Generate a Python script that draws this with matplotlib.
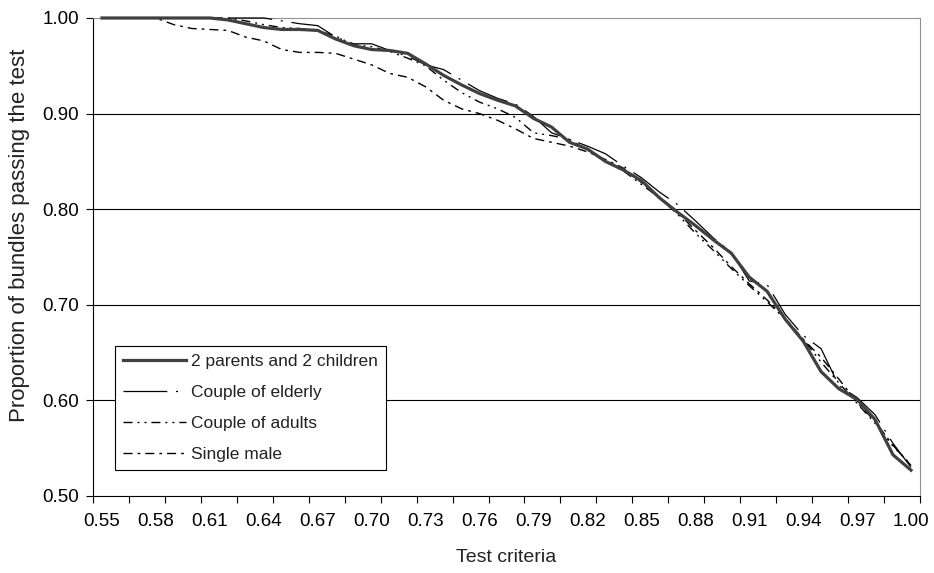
import matplotlib
matplotlib.use("Agg")
import matplotlib.pyplot as plt
import numpy as np

plt.rcParams['font.family'] = ['Liberation Sans', 'DejaVu Sans']

# test criteria categories 0.55 ... 1.00
criteria = np.round(np.linspace(0.55, 1.00, 46), 2)

parents_children = [
    1.000, 1.000, 1.000, 1.000, 1.000, 1.000, 1.000, 0.998, 0.994, 0.990,
    0.988, 0.988, 0.987, 0.978, 0.971, 0.967, 0.966, 0.963, 0.952, 0.940,
    0.930, 0.921, 0.914, 0.908, 0.895, 0.886, 0.870, 0.863, 0.850, 0.841,
    0.830, 0.812, 0.797, 0.783, 0.768, 0.754, 0.729, 0.714, 0.685, 0.662,
    0.630, 0.612, 0.601, 0.580, 0.543, 0.527]
elderly = [
    1.000, 1.000, 1.000, 1.000, 1.000, 1.000, 1.000, 1.000, 1.000, 1.000,
    0.997, 0.994, 0.992, 0.980, 0.973, 0.973, 0.966, 0.960, 0.951, 0.946,
    0.935, 0.924, 0.916, 0.910, 0.897, 0.880, 0.873, 0.866, 0.858, 0.845,
    0.833, 0.818, 0.805, 0.788, 0.770, 0.755, 0.725, 0.721, 0.690, 0.668,
    0.654, 0.615, 0.603, 0.585, 0.555, 0.530]
adults = [
    1.000, 1.000, 1.000, 1.000, 1.000, 1.000, 1.000, 1.000, 0.997, 0.993,
    0.990, 0.989, 0.987, 0.981, 0.972, 0.970, 0.965, 0.958, 0.950, 0.935,
    0.922, 0.912, 0.905, 0.896, 0.880, 0.877, 0.873, 0.862, 0.850, 0.840,
    0.826, 0.812, 0.795, 0.775, 0.757, 0.738, 0.720, 0.703, 0.685, 0.664,
    0.640, 0.618, 0.597, 0.576, 0.552, 0.533]
single_male = [
    1.000, 1.000, 1.000, 1.000, 0.993, 0.989, 0.988, 0.987, 0.980, 0.976,
    0.967, 0.964, 0.964, 0.963, 0.957, 0.951, 0.942, 0.938, 0.928, 0.914,
    0.905, 0.900, 0.893, 0.884, 0.874, 0.870, 0.866, 0.860, 0.852, 0.843,
    0.828, 0.813, 0.797, 0.778, 0.760, 0.740, 0.722, 0.705, 0.686, 0.664,
    0.645, 0.622, 0.598, 0.578, 0.553, 0.532]

labels = ['2 parents and 2 children', 'Couple of elderly',
          'Couple of adults', 'Single male']

fig = plt.figure(figsize=(9.34, 5.73), dpi=100)
ax = fig.add_axes([0.0996, 0.1344, 0.8854, 0.8342])

ax.plot(criteria, parents_children, color='#404040', lw=2.3,
        label=labels[0], clip_on=False, zorder=5)
ax.plot(criteria, elderly, color='black', lw=0.9,
        linestyle=(0, (35, 7, 1.6, 7)), label=labels[1], clip_on=False, zorder=4)
ax.plot(criteria, adults, color='black', lw=1.0,
        linestyle=(0, (6.5, 3.6, 1.4, 3.6, 1.4, 3.6)), label=labels[2],
        clip_on=False, zorder=4)
ax.plot(criteria, single_male, color='black', lw=1.0,
        linestyle=(0, (6.5, 3.6, 2.0, 3.6)), label=labels[3],
        clip_on=False, zorder=4)

ax.set_xlim(0.545, 1.005)
ax.set_ylim(0.5, 1.0)

# gridlines
for y in [0.6, 0.7, 0.8, 0.9]:
    ax.axhline(y, color='black', lw=0.8, zorder=1)

ax.set_yticks(np.arange(0.5, 1.01, 0.1))
ax.set_yticklabels(['%.2f' % v for v in np.arange(0.5, 1.01, 0.1)])
ax.set_xticks(criteria[::3])
ax.set_xticklabels(['%.2f' % v for v in criteria[::3]])
ax.set_xticks(0.545 + 0.02 * np.arange(24), minor=True)
ax.tick_params(axis='x', which='major', length=0, pad=12, labelsize=13.5)
ax.tick_params(axis='x', which='minor', length=5, direction='out', width=0.8)
ax.tick_params(axis='y', length=5, direction='out', width=0.8, labelsize=13.5, pad=5)

ax.spines['left'].set_color('black')
ax.spines['bottom'].set_color('black')
ax.spines['top'].set_color('#909090')
ax.spines['right'].set_color('#909090')
for s in ax.spines.values():
    s.set_linewidth(0.8)

ax.set_xlabel('Test criteria', fontsize=14, color='#222222', labelpad=14)
fig.text(0.021, 0.59, 'Proportion of bundles passing the test', fontsize=16,
         color='#222222', rotation=90, ha='center', va='center')

leg = ax.legend(loc='lower left', bbox_to_anchor=(0.0266, 0.054),
                fontsize=12.5, frameon=True, fancybox=False, framealpha=1,
                edgecolor='black', handlelength=3.6, handletextpad=0.3,
                labelspacing=0.91, borderpad=0.46, borderaxespad=0)
leg.get_frame().set_linewidth(0.8)
for t in leg.get_texts():
    t.set_color('#222222')

fig.savefig('out.png', dpi=100)
